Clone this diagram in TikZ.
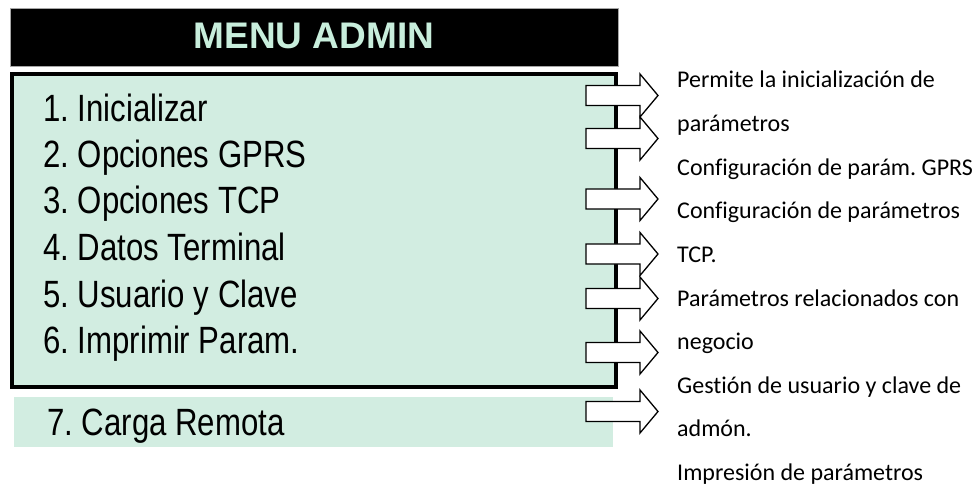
\documentclass[tikz,border=0pt]{standalone}
\usepackage{fontspec}
\newfontfamily\menufont[FakeStretch=0.82]{Liberation Sans}
\newfontfamily\headfont{Liberation Sans}
\newfontfamily\descfont[Ligatures=NoCommon]{Carlito}
\definecolor{menugreen}{HTML}{D2EDE1}
\definecolor{headgreen}{HTML}{C8EEDC}
\frenchspacing
\begin{document}
\begin{tikzpicture}[x=1pt,y=-1pt,
 menuitem/.style={anchor=base west, inner sep=0, font=\menufont\fontsize{38}{38}\selectfont},
 desc/.style={anchor=base west, inner sep=0, font=\descfont\fontsize{24}{24}\selectfont},
 blockarrow/.pic={\draw[fill=white, line width=1.3pt, line join=miter] (0,-10) -- (54,-10) -- (54,-21.5) -- (72,0) -- (54,21.5) -- (54,10) -- (0,10) -- cycle;}
]
\useasboundingbox (0,0) rectangle (980,489);
% header
\node[fill=black, draw=gray!70, line width=0.8pt, minimum width=608, minimum height=58, inner sep=0] (header) at (314,37) {};
\node[anchor=base, inner sep=0, text=headgreen, font=\headfont\bfseries\fontsize{37}{37}\selectfont] (title) at (314,49) {MENU ADMIN};
% main menu box
\node[draw=black, line width=4pt, fill=menugreen, minimum width=604, minimum height=313, inner sep=0] (menu) at (314,230.5) {};
\node[fill=menugreen, minimum width=599, minimum height=50, inner sep=0] (carga) at (313.5,422) {};
% menu items
\node[menuitem] (m1) at (43,122) {1. Inicializar};
\node[menuitem] (m2) at (43,168) {2. Opciones GPRS};
\node[menuitem] (m3) at (43,214) {3. Opciones TCP};
\node[menuitem] (m4) at (43,261) {4. Datos Terminal};
\node[menuitem] (m5) at (43,307) {5. Usuario y Clave};
\node[menuitem] (m6) at (43,353) {6. Imprimir Param.};
\node[menuitem] (m7) at (47,435) {7. Carga Remota};
% arrows
\pic at (586,95.5) {blockarrow};
\pic at (586,138.5) {blockarrow};
\pic at (586,199) {blockarrow};
\pic at (586,254) {blockarrow};
\pic at (586,298.5) {blockarrow};
\pic at (586,352.5) {blockarrow};
\pic at (586,411.5) {blockarrow};
% descriptions
\node[desc] (d1) at (677,88) {Permite la inicialización de};
\node[desc] (d2) at (677,131.6) {parámetros};
\node[desc] (d3) at (677,175.2) {Configuración de parám. GPRS};
\node[desc] (d4) at (677,218.8) {Configuración de parámetros};
\node[desc] (d5) at (677,262.4) {TCP.};
\node[desc] (d6) at (677,306) {Parámetros relacionados con};
\node[desc] (d7) at (677,349.6) {negocio};
\node[desc] (d8) at (677,393.2) {Gestión de usuario y clave de};
\node[desc] (d9) at (677,436.8) {admón.};
\node[desc] (d10) at (677,480.4) {Impresión de parámetros};
\end{tikzpicture}
\end{document}
